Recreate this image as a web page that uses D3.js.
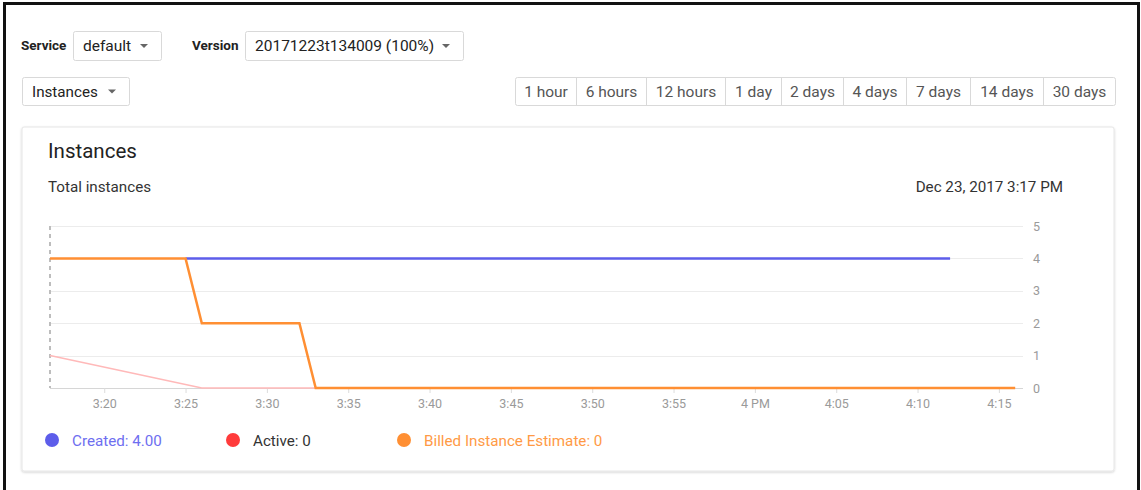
<!DOCTYPE html>
<html>
<head>
<meta charset="utf-8">
<script src="https://cdn.jsdelivr.net/npm/d3@7"></script>
<style>
  body { margin: 0; background: #fff; font-family: Roboto, "Open Sans", sans-serif; }
  svg text { font-family: Roboto, sans-serif; }
</style>
</head>
<body>
<script>
// time ranges in the button bar
var rangeLabels = ['1 hour', '6 hours', '12 hours', '1 day', '2 days', '4 days', '7 days', '14 days', '30 days'];

// series, times are on Dec 23, 2017 (PM)
var createdTimes   = ['15:25:00', '16:12:00'];
var createdValues  = [4, 4];
var activeTimes    = ['15:16:40', '15:26:00', '15:33:00', '16:16:00'];
var activeValues   = [1, 0, 0, 0];
var billedTimes    = ['15:16:40', '15:25:00', '15:26:00', '15:32:00', '15:33:00', '16:16:00'];
var billedValues   = [4, 4, 2, 2, 0, 0];

var yTicks = [0, 1, 2, 3, 4, 5];

var legendLabels = ['Created: 4.00', 'Active: 0', 'Billed Instance Estimate: 0'];
var legendColors = ['#5d5dea', '#ff3b3b', '#ff8f33'];
var legendText   = ['#6e6ef0', '#333333', '#ff9a45'];

{ // INIT
  var width  = 1141,
      height = 490;

  var svg = d3.select('body').append('svg')
      .attr('width', width)
      .attr('height', height);

  var parse = d3.timeParse('%Y-%m-%d %H:%M:%S');
  function t(s) { return parse('2017-12-23 ' + s); }

  // outer frame (no bottom edge visible)
  svg.append('path')
      .attr('d', 'M4.5,600 V3.5 H1138.5 V600')
      .attr('fill', 'none')
      .attr('stroke', '#111')
      .attr('stroke-width', 3);

  // --- controls row ---
  function dropdown(x, y, w, h, label, fs) {
    var g = svg.append('g').attr('transform', 'translate(' + x + ',' + y + ')');
    g.append('rect')
        .attr('x', 0.5).attr('y', 0.5)
        .attr('width', w).attr('height', h)
        .attr('rx', 2)
        .attr('fill', '#fff')
        .attr('stroke', '#d9d9d9');
    g.append('text')
        .attr('x', 10).attr('y', h / 2 + 5.5)
        .attr('font-size', fs)
        .attr('fill', '#222')
        .text(label);
    g.append('path')
        .attr('d', 'M' + (w - 21) + ',' + (h / 2 - 1.5) + ' l8,0 l-4,4 z')
        .attr('fill', '#666');
  }

  svg.append('text').attr('x', 21).attr('y', 50)
      .attr('font-size', 13.5).attr('font-weight', 'bold').attr('fill', '#222')
      .text('Service');
  dropdown(73, 31, 88, 29, 'default', 15.5);

  svg.append('text').attr('x', 192).attr('y', 50)
      .attr('font-size', 13.5).attr('font-weight', 'bold').attr('fill', '#222')
      .text('Version');
  dropdown(245, 31, 218, 29, '20171223t134009 (100%)', 15.5);

  dropdown(22, 77, 107, 28, 'Instances', 15.2);

  // button group
  var btnEdges = [515, 576, 646, 725, 781, 843, 906, 970, 1043, 1115];
  var btns = svg.append('g');
  btns.append('rect')
      .attr('x', 515.5).attr('y', 77.5)
      .attr('width', 1115 - 515).attr('height', 28)
      .attr('rx', 2)
      .attr('fill', '#fff')
      .attr('stroke', '#d9d9d9');
  btns.selectAll('line.sep')
      .data(btnEdges.slice(1, -1))
      .enter().append('line')
      .attr('class', 'sep')
      .attr('x1', function(d) { return d + 0.5; })
      .attr('x2', function(d) { return d + 0.5; })
      .attr('y1', 78).attr('y2', 105)
      .attr('stroke', '#d9d9d9');
  btns.selectAll('text')
      .data(rangeLabels)
      .enter().append('text')
      .attr('x', function(d, i) { return (btnEdges[i] + btnEdges[i + 1]) / 2 + 0.5; })
      .attr('y', 96.5)
      .attr('text-anchor', 'middle')
      .attr('font-size', 15.5)
      .attr('fill', '#555')
      .text(function(d) { return d; });

  // --- card ---
  var defs = svg.append('defs');
  var f = defs.append('filter').attr('id', 'sh')
      .attr('x', '-5%').attr('y', '-5%').attr('width', '110%').attr('height', '110%');
  f.append('feDropShadow')
      .attr('dx', 0).attr('dy', 1).attr('stdDeviation', 1.2)
      .attr('flood-color', '#000').attr('flood-opacity', 0.18);

  svg.append('rect')
      .attr('x', 22).attr('y', 127)
      .attr('width', 1092).attr('height', 344)
      .attr('rx', 2)
      .attr('fill', '#fff')
      .attr('stroke', '#e6e6e6')
      .attr('filter', 'url(#sh)');

  svg.append('text').attr('x', 48).attr('y', 158)
      .attr('font-size', 20.5).attr('fill', '#222')
      .text('Instances');
  svg.append('text').attr('x', 48).attr('y', 192)
      .attr('font-size', 15.2).attr('fill', '#333')
      .text('Total instances');
  svg.append('text').attr('x', 1063).attr('y', 192)
      .attr('text-anchor', 'end')
      .attr('font-size', 15.2).attr('fill', '#333')
      .text('Dec 23, 2017 3:17 PM');

  // --- chart ---
  var x = d3.scaleTime()
      .domain([t('15:16:40'), t('16:16:40')])
      .range([50, 1026]);
  var y = d3.scaleLinear()
      .domain([0, 5])
      .range([388, 226]);

  var chart = svg.append('g');

  // grid
  chart.selectAll('line.grid')
      .data(yTicks)
      .enter().append('line')
      .attr('class', 'grid')
      .attr('x1', 50).attr('x2', 1023)
      .attr('y1', function(d) { return Math.round(y(d)) + 0.5; })
      .attr('y2', function(d) { return Math.round(y(d)) + 0.5; })
      .attr('stroke', function(d) { return d === 0 ? '#d6d6d6' : '#ececec'; })
      .attr('stroke-width', 1);

  // y labels on the right
  var yAxis = d3.axisRight(y).tickValues(yTicks).tickSize(0).tickPadding(0)
      .tickFormat(d3.format('d'));
  var ya = chart.append('g')
      .attr('transform', 'translate(1033,0)')
      .call(yAxis);
  ya.select('.domain').remove();
  ya.selectAll('text').attr('font-size', 12.5).attr('fill', '#9a9a9a').attr('font-family', 'Roboto, sans-serif');

  // x axis
  var xAxis = d3.axisBottom(x)
      .ticks(d3.timeMinute.every(5))
      .tickSize(5)
      .tickPadding(6)
      .tickFormat(function(d) {
        return d.getMinutes() === 0 ? d3.timeFormat('%-I %p')(d) : d3.timeFormat('%-I:%M')(d);
      });
  var xa = chart.append('g')
      .attr('transform', 'translate(0,388)')
      .call(xAxis);
  xa.select('.domain').remove();
  xa.selectAll('line').attr('stroke', '#dcdcdc');
  xa.selectAll('text').attr('font-size', 12.5).attr('fill', '#9a9a9a').attr('font-family', 'Roboto, sans-serif');

  // dashed left marker
  chart.append('line')
      .attr('x1', 50).attr('x2', 50)
      .attr('y1', 226).attr('y2', 388)
      .attr('stroke', '#bdbdbd')
      .attr('stroke-width', 2)
      .attr('stroke-dasharray', '4,4');

  var line = d3.line()
      .x(function(d) { return x(d.t); })
      .y(function(d) { return y(d.v); });

  function series(times, values) {
    return times.map(function(s, i) { return {t: t(s), v: values[i]}; });
  }

  chart.append('path')
      .datum(series(activeTimes, activeValues))
      .attr('d', line)
      .attr('fill', 'none')
      .attr('stroke', '#ffb9b9')
      .attr('stroke-width', 1.5);

  chart.append('path')
      .datum(series(createdTimes, createdValues))
      .attr('d', line)
      .attr('fill', 'none')
      .attr('stroke', legendColors[0])
      .attr('stroke-width', 2.5);

  chart.append('path')
      .datum(series(billedTimes, billedValues))
      .attr('d', line)
      .attr('fill', 'none')
      .attr('stroke', legendColors[2])
      .attr('stroke-width', 2.5);

  // legend
  var legendX = [52, 233, 404];
  var lg = svg.selectAll('g.legend')
      .data(legendLabels)
      .enter().append('g')
      .attr('class', 'legend')
      .attr('transform', function(d, i) { return 'translate(' + legendX[i] + ',440)'; });
  lg.append('circle')
      .attr('r', 7)
      .attr('fill', function(d, i) { return legendColors[i]; });
  lg.append('text')
      .attr('x', 20).attr('y', 5.5)
      .attr('font-size', 15.2)
      .attr('fill', function(d, i) { return legendText[i]; })
      .text(function(d) { return d; });
}
</script>
</body>
</html>
